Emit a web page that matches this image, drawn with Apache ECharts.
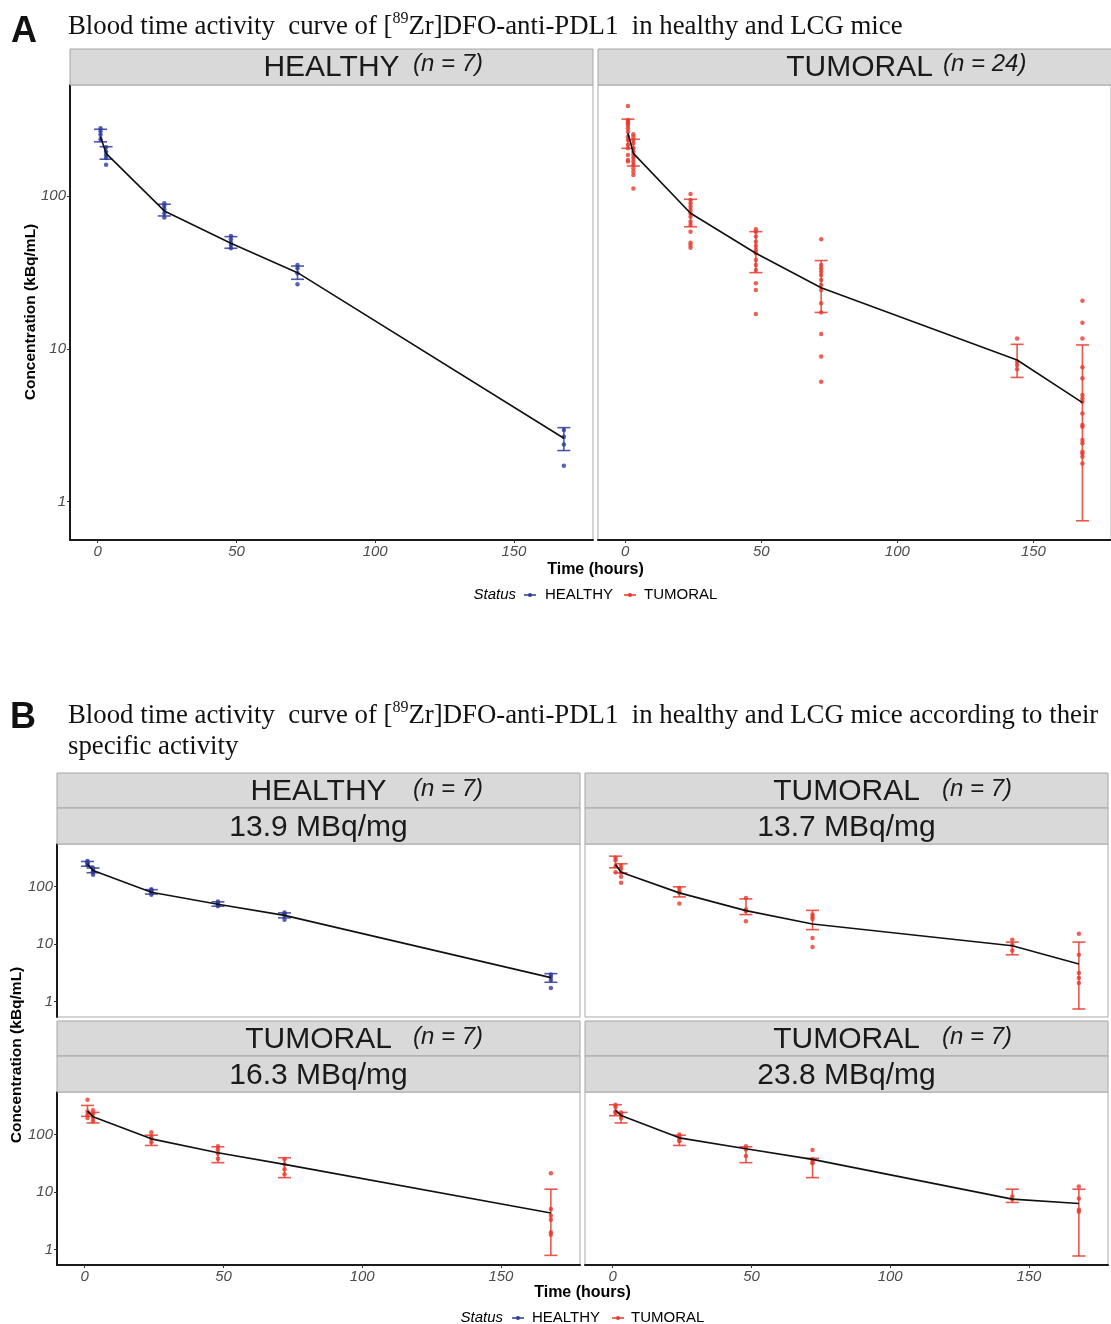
<!DOCTYPE html>
<html><head><meta charset="utf-8">
<script src="https://cdn.jsdelivr.net/npm/echarts@6/dist/echarts.min.js"></script>
<style>html,body{margin:0;padding:0;background:#fff}#c{width:1111px;height:1324px}</style>
</head><body><div id="c"></div>
<script>
// ---------- DATA ----------
const timesHealthy = [1, 3, 24, 48, 72, 168];
const timesTumoral = [1, 3, 24, 48, 72, 144, 168];
const timesT163 = [1, 3, 24, 48, 72, 168];
const xTicks = [0, 50, 100, 150];
const yTicks = [1, 10, 100];

// A - healthy (also B 13.9 MBq/mg)
const healthyPts = [[277, 264, 251, 235], [208, 195, 185, 177, 160], [89.6, 86, 81.9, 77.1, 72.2], [54.7, 52.1, 49.5, 47.8, 45.5], [35.4, 33.7, 31.2, 26.4], [2.94, 2.66, 2.37, 1.72]];
const healthyMean = [244, 190, 79.8, 49.1, 31.5, 2.6];
const healthyLow = [226, 174, 74, 45.5, 28.5, 2.16];
const healthyHigh = [273, 210, 88.3, 54.2, 34.8, 3.05];

// A - tumoral (n = 24)
const tumoralPts = [
  [388, 314, 306, 299, 291, 277, 263, 244, 232, 216, 205, 185, 172, 168],
  [253, 244, 232, 221, 205, 195, 185, 177, 168, 160, 152, 144, 137, 112],
  [103, 94.2, 89.6, 85.1, 81.0, 77.1, 73.2, 67.9, 64.6, 58.4, 49.4, 47.8, 45.9],
  [60.5, 58.4, 54.2, 50.2, 47.1, 44.3, 42.2, 38.1, 35.4, 32.8, 26.9, 24.3, 16.9],
  [52.1, 35.4, 33.7, 32.0, 30.4, 28.2, 26.2, 24.3, 19.9, 17.3, 12.5, 8.9, 6.1],
  [11.7, 8.24, 7.84, 7.34],
  [20.6, 14.8, 11.7, 7.57, 6.41, 4.99, 4.74, 4.51, 3.78, 3.17, 3.09, 2.53, 2.41, 2.12, 2.07, 1.97, 1.78]
];
const tumoralMean = [257, 190, 77.1, 42.2, 25.1, 8.45, 4.45];
const tumoralLow = [205, 157, 62.9, 31.5, 17.3, 6.5, 0.75];
const tumoralHigh = [318, 235, 95.1, 58.4, 37.8, 10.7, 10.6];

// B - tumoral 13.7 MBq/mg
const t137Pts = [[317, 288, 226, 178], [232, 204, 173, 148, 116], [94.8, 82.8, 77.6, 50.5], [63.5, 39.7, 37.1, 24.8], [32.5, 29.5, 27.3, 12.7, 8.87], [11.9, 9.7, 7.73], [15.1, 6.5, 3.12, 2.55, 2.09]];
const t137Mean = [242, 178, 77.6, 38.1, 22.3, 9.33, 4.48];
const t137Low = [212, 173, 66.1, 32.5, 17.8, 6.5, 0.74];
const t137High = [338, 249, 98.8, 61, 38.5, 10.8, 10.8];

// B - tumoral 16.3 MBq/mg
const t163Pts = [[403, 253, 222, 194], [264, 231, 194, 170], [110, 93.6, 84.1, 73.7], [62.8, 55, 46.9, 37.9], [37, 30.3, 24.8, 20.3], [21.2, 5.05, 3.87, 3.3, 2.0, 1.8]];
const t163Mean = [255, 205, 84.1, 48.2, 30.3, 4.3];
const t163Low = [207, 159, 64.6, 32.4, 17.8, 0.79];
const t163High = [321, 243, 97.4, 61.2, 39.5, 11.2];

// B - tumoral 23.8 MBq/mg
const t238Pts = [[330, 301, 253, 237], [243, 222, 194], [100, 93.6, 82, 76.7], [62.8, 55, 42.2], [53.6, 37, 33.3, 31.6], [8.36, 7.52], [12.5, 7.73, 4.92, 4.54]];
const t238Mean = [265, 215, 87.6, 56.5, 37, 7.52, 6.32];
const t238Low = [213, 159, 64.6, 32.4, 17.8, 6.58, 0.77];
const t238High = [330, 243, 97.4, 61.2, 38.5, 11.2, 11.2];

// ---------- STYLE / LAYOUT ----------
const BLUE = '#2E3B9C';
const RED = '#E8392D';
const SANS = '"Liberation Sans", Arial, sans-serif';
const SERIF = '"Liberation Serif", "Times New Roman", serif';
const LABEL_GRAY = '#4d4d4d';

const panels = [
  {grid: {left: 70, top: 85, width: 523, height: 455}, yMin: 0.5614, yMax: 532, times: timesHealthy, pts: healthyPts, mean: healthyMean, low: healthyLow, high: healthyHigh, color: BLUE, showX: true, showY: true},
  {grid: {left: 598, top: 85, width: 523, height: 455}, yMin: 0.5614, yMax: 532, times: timesTumoral, pts: tumoralPts, mean: tumoralMean, low: tumoralLow, high: tumoralHigh, color: RED, showX: true, showY: false},
  {grid: {left: 57, top: 844, width: 523, height: 173}, yMin: 0.537, yMax: 550, times: timesHealthy, pts: healthyPts, mean: healthyMean, low: healthyLow, high: healthyHigh, color: BLUE, showX: false, showY: true},
  {grid: {left: 585, top: 844, width: 523, height: 173}, yMin: 0.537, yMax: 550, times: timesTumoral, pts: t137Pts, mean: t137Mean, low: t137Low, high: t137High, color: RED, showX: false, showY: false},
  {grid: {left: 57, top: 1092, width: 523, height: 173}, yMin: 0.537, yMax: 550, times: timesT163, pts: t163Pts, mean: t163Mean, low: t163Low, high: t163High, color: RED, showX: true, showY: true},
  {grid: {left: 585, top: 1092, width: 523, height: 173}, yMin: 0.537, yMax: 550, times: timesTumoral, pts: t238Pts, mean: t238Mean, low: t238Low, high: t238High, color: RED, showX: true, showY: false}
];

const grids = [], xAxes = [], yAxes = [], series = [];
panels.forEach((p, i) => {
  grids.push(Object.assign({show: true, borderColor: '#a9a9a9', borderWidth: 1, backgroundColor: '#fff', containLabel: false}, p.grid));
  xAxes.push({
    type: 'value', gridIndex: i, min: -10, max: 178.5,
    splitLine: {show: false},
    axisLine: {show: p.showX, onZero: false, lineStyle: {color: '#1a1a1a', width: 2}},
    axisTick: {show: p.showX, length: 3, lineStyle: {color: '#333'}, customValues: xTicks},
    axisLabel: {show: p.showX, customValues: xTicks, color: LABEL_GRAY, fontStyle: 'italic', fontFamily: SANS, fontSize: 15, margin: 4}
  });
  yAxes.push({
    type: 'log', logBase: 10, gridIndex: i, min: p.yMin, max: p.yMax,
    splitLine: {show: false}, minorTick: {show: false},
    axisLine: {show: p.showY, onZero: false, lineStyle: {color: '#1a1a1a', width: 2}},
    axisTick: {show: p.showY, length: 3, lineStyle: {color: '#333'}, customValues: yTicks},
    axisLabel: {show: p.showY, customValues: yTicks, color: LABEL_GRAY, fontStyle: 'italic', fontFamily: SANS, fontSize: 15, margin: 4,
      formatter: v => String(Math.round(v))}
  });
  const scatterData = [];
  p.pts.forEach((arr, k) => arr.forEach(v => scatterData.push([p.times[k], v])));
  const errData = p.times.map((t, k) => [t, p.low[k], p.high[k]]);
  const lineData = p.times.map((t, k) => [t, p.mean[k]]);
  const col = p.color;
  series.push({
    type: 'scatter', xAxisIndex: i, yAxisIndex: i, data: scatterData, symbolSize: 4.5,
    itemStyle: {color: col, opacity: 0.8}, silent: true, z: 2
  });
  series.push({
    type: 'custom', xAxisIndex: i, yAxisIndex: i, data: errData, silent: true, z: 3,
    encode: {x: 0, y: [1, 2]},
    renderItem: (params, api) => {
      const lo = api.coord([api.value(0), api.value(1)]);
      const hi = api.coord([api.value(0), api.value(2)]);
      const w = 6.5;
      const st = {stroke: col, lineWidth: 1.6, opacity: 0.85};
      return {type: 'group', children: [
        {type: 'line', shape: {x1: lo[0], y1: hi[1], x2: lo[0], y2: lo[1]}, style: st},
        {type: 'line', shape: {x1: lo[0] - w, y1: hi[1], x2: lo[0] + w, y2: hi[1]}, style: st},
        {type: 'line', shape: {x1: lo[0] - w, y1: lo[1], x2: lo[0] + w, y2: lo[1]}, style: st}
      ]};
    }
  });
  series.push({
    type: 'line', xAxisIndex: i, yAxisIndex: i, data: lineData, showSymbol: false, symbol: 'none',
    lineStyle: {color: '#111', width: 1.6}, silent: true, z: 4, animation: false
  });
});

// ---------- GRAPHICS (titles, strips, legend) ----------
const g = [];
function strip(x, y, w, h) {
  g.push({type: 'rect', shape: {x: x, y: y, width: w, height: h}, style: {fill: '#d9d9d9', stroke: '#a6a6a6', lineWidth: 1}, z: 10});
}
function txt(text, x, y, opts) {
  g.push({type: 'text', x: x, y: y, z: 11, style: Object.assign({text: text, fill: '#1a1a1a', font: '30px ' + SANS, align: 'center', verticalAlign: 'middle'}, opts || {})});
}
// panel letters
txt('A', 24, 32, {font: 'bold 36px ' + SANS, fill: '#111'});
txt('B', 23, 718, {font: 'bold 36px ' + SANS, fill: '#111'});
// titles (rich text with superscript)
const richTitle = {a: {fontFamily: SERIF, fontSize: 26.8, lineHeight: 32, fill: '#111', verticalAlign: 'bottom'}, sup: {fontFamily: SERIF, fontSize: 16, lineHeight: 32, fill: '#111', verticalAlign: 'top', padding: [3, 0, 0, 0]}};
g.push({type: 'text', x: 68, y: 8, z: 11, style: {text: '{a|Blood time activity  curve of [}{sup|89}{a|Zr]DFO-anti-PDL1  in healthy and LCG mice}', rich: richTitle, align: 'left', verticalAlign: 'top'}});
g.push({type: 'text', x: 68, y: 697, z: 11, style: {text: '{a|Blood time activity  curve of [}{sup|89}{a|Zr]DFO-anti-PDL1  in healthy and LCG mice according to their}', rich: richTitle, align: 'left', verticalAlign: 'top'}});
txt('specific activity', 68, 747, {font: '26.8px ' + SERIF, align: 'left', fill: '#111'});

// strips A
strip(70, 49, 523, 36); strip(598, 49, 523, 36);
txt('HEALTHY', 331.5, 68); txt('(n = 7)', 413, 64, {font: 'italic 24px ' + SANS, align: 'left'});
txt('TUMORAL', 859.5, 68); txt('(n = 24)', 943, 64, {font: 'italic 24px ' + SANS, align: 'left'});
// strips B
const bStrips = [
  {x: 57, y: 773, lab: 'HEALTHY', n: '(n = 7)', nx: 413, sa: '13.9 MBq/mg'},
  {x: 585, y: 773, lab: 'TUMORAL', n: '(n = 7)', nx: 942, sa: '13.7 MBq/mg'},
  {x: 57, y: 1021, lab: 'TUMORAL', n: '(n = 7)', nx: 413, sa: '16.3 MBq/mg'},
  {x: 585, y: 1021, lab: 'TUMORAL', n: '(n = 7)', nx: 942, sa: '23.8 MBq/mg'}
];
bStrips.forEach(s => {
  strip(s.x, s.y, 523, 35); strip(s.x, s.y + 35, 523, 36);
  txt(s.lab, s.x + 261.5, s.y + 19); txt(s.n, s.nx, s.y + 16, {font: 'italic 24px ' + SANS, align: 'left'});
  txt(s.sa, s.x + 261.5, s.y + 55);
});
// axis titles
g.push({type: 'text', x: 31, y: 312, rotation: Math.PI / 2, z: 11, style: {text: 'Concentration (kBq/mL)', font: 'bold 15.5px ' + SANS, fill: '#000', align: 'center', verticalAlign: 'middle'}});
g.push({type: 'text', x: 17, y: 1055, rotation: Math.PI / 2, z: 11, style: {text: 'Concentration (kBq/mL)', font: 'bold 15.5px ' + SANS, fill: '#000', align: 'center', verticalAlign: 'middle'}});
txt('Time (hours)', 595.5, 570, {font: 'bold 16px ' + SANS, fill: '#000'});
txt('Time (hours)', 582.5, 1293, {font: 'bold 16px ' + SANS, fill: '#000'});
// legends
function legend(y, statusRight, k1, l1, k2, l2) {
  txt('Status', statusRight, y, {font: 'italic 15px ' + SANS, align: 'right', fill: '#000'});
  [[k1, BLUE], [k2, RED]].forEach(([kx, c]) => {
    g.push({type: 'line', shape: {x1: kx - 6, y1: y, x2: kx + 6, y2: y}, style: {stroke: c, lineWidth: 1.5}, z: 11});
    g.push({type: 'circle', shape: {cx: kx, cy: y, r: 2}, style: {fill: c}, z: 11});
  });
  txt('HEALTHY', l1, y, {font: '15px ' + SANS, align: 'left', fill: '#000'});
  txt('TUMORAL', l2, y, {font: '15px ' + SANS, align: 'left', fill: '#000'});
}
legend(595, 516, 530, 545, 630, 644);
legend(1318, 503, 518, 532, 618, 631);

const chart = echarts.init(document.getElementById('c'), null, {renderer: 'canvas'});
chart.setOption({
  backgroundColor: '#fff',
  animation: false,
  grid: grids, xAxis: xAxes, yAxis: yAxes, series: series,
  graphic: {elements: g}
});
</script></body></html>
